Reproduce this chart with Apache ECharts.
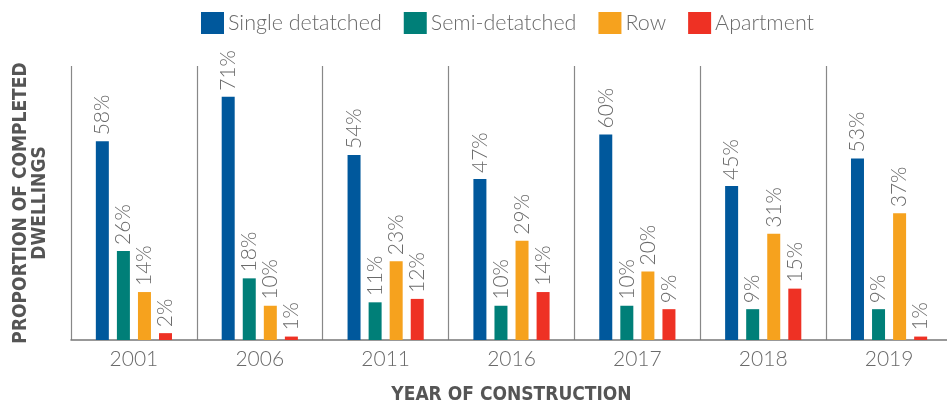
<!DOCTYPE html>
<html>
<head>
<meta charset="utf-8">
<script src="https://cdn.jsdelivr.net/npm/echarts@6/dist/echarts.min.js"></script>
<style>
  html, body { margin: 0; padding: 0; background: #fff; }
  #chart { width: 947px; height: 400px; }
</style>
</head>
<body>
<div id="chart"></div>
<script>
// data
const years = ['2001', '2006', '2011', '2016', '2017', '2018', '2019']
const singleDetached = [58, 71, 54, 47, 60, 45, 53]
const semiDetached = [26, 18, 11, 10, 10, 9, 9]
const row = [14, 10, 23, 29, 20, 31, 37]
const apartment = [2, 1, 12, 14, 9, 15, 1]

const FONT = 'Lato'
const TITLE_FONT = 'DejaVu Sans Condensed'
const GRAY = '#6a6a6a'

// 每個系列共用的樣式
function makeSeries(name, data, color) {
  return {
    name: name,
    type: 'bar',
    data: data,
    barWidth: 13,
    barGap: '62%',
    itemStyle: { color: color },
    label: {
      show: true,
      position: 'top',
      rotate: 90,
      align: 'left',
      verticalAlign: 'middle',
      distance: 6,
      formatter: '{c}%',
      color: GRAY,
      fontFamily: FONT,
      fontWeight: 300,
      fontSize: 21
    }
  }
}

const chart = echarts.init(document.getElementById('chart'))

chart.setOption({
  animation: false,
  legend: {
    top: 12,
    left: 201,
    padding: 0,
    itemWidth: 23,
    itemHeight: 22,
    itemGap: 22,
    icon: 'rect',
    textStyle: { color: GRAY, fontFamily: FONT, fontWeight: 300, fontSize: 21.5, padding: [0, 0, 0, -1] },
    data: ['Single detatched', 'Semi-detatched', 'Row', 'Apartment']
  },
  grid: { left: 71, top: 66, width: 881, bottom: 60, outerBoundsMode: 'none' },
  xAxis: {
    type: 'category',
    data: years,
    axisLine: { lineStyle: { color: '#777', width: 1.5 } },
    axisTick: { show: false },
    splitLine: { show: true, interval: 0, lineStyle: { color: '#888', width: 1.2 } },
    axisLabel: { color: GRAY, fontFamily: FONT, fontWeight: 300, fontSize: 21, margin: 9 },
    name: 'YEAR OF CONSTRUCTION',
    nameLocation: 'middle',
    nameGap: 46,
    nameTextStyle: { color: '#555', fontFamily: TITLE_FONT, fontWeight: 'bold', fontSize: 19 }
  },
  yAxis: {
    type: 'value',
    min: 0,
    max: 80,
    axisLine: { show: false },
    axisTick: { show: false },
    axisLabel: { show: false },
    splitLine: { show: false },
    name: 'PROPORTION OF COMPLETED\nDWELLINGS',
    nameLocation: 'middle',
    nameRotate: 90,
    nameGap: 21,
    nameTextStyle: { color: '#555', fontFamily: TITLE_FONT, fontWeight: 'bold', fontSize: 19, lineHeight: 19 }
  },
  series: [
    makeSeries('Single detatched', singleDetached, '#00589c'),
    makeSeries('Semi-detatched', semiDetached, '#007f78'),
    makeSeries('Row', row, '#f6a21e'),
    makeSeries('Apartment', apartment, '#ee3124')
  ]
})
</script>
</body>
</html>
